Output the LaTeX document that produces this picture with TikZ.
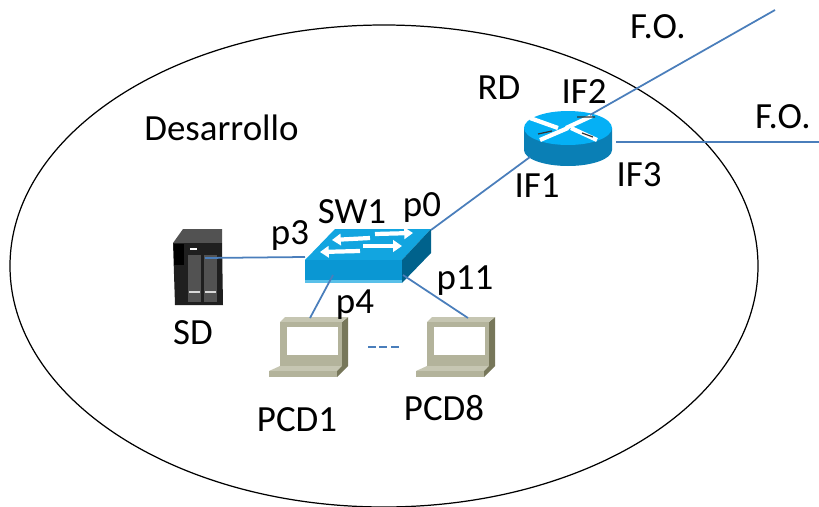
\documentclass[tikz,border=0pt]{standalone}
\usepackage{fontspec}
\setmainfont{Carlito}
\usetikzlibrary{arrows.meta}
\definecolor{fibre}{HTML}{4A7EBB}
\definecolor{ciscotop}{HTML}{12A5E0}
\definecolor{ciscofront}{HTML}{0A97D3}
\definecolor{ciscoside}{HTML}{00628C}
\definecolor{routertop}{HTML}{05B0F5}
\definecolor{routerside}{HTML}{0A7FB5}
\definecolor{pcbody}{HTML}{B3B39B}
\definecolor{pcdark}{HTML}{77775A}
\definecolor{pclight}{HTML}{C6C6B2}
\tikzset{
	label/.style={font=\fontsize{21}{24}\selectfont,inner sep=0pt},
	link/.style={fibre,line width=1pt},
	swarrow/.style={white,line width=2.4pt,-{Stealth[length=5pt,width=6.5pt,inset=0pt]}},
}
\begin{document}
\begin{tikzpicture}[x=0.02cm,y=-0.02cm]
\useasboundingbox (0,0) rectangle (819,507);
\draw [line width=0.7pt] (384,266) ellipse [x radius=374,y radius=241];

% router
\fill [routerside] (524,128) -- (524,150) arc [start angle=180,end angle=360,x radius=44,y radius=-16] -- (612,128) -- cycle;
\fill [routertop] (568,128) ellipse [x radius=44,y radius=17];
\foreach \a / \b in {530/118,540/140}
	\draw [white,line width=2.4pt] (\a,\b) -- ({\a+28},{128});
\foreach \a / \b in {592/116,597/140}
	\draw [white,line width=2.4pt] (\a,\b) -- ({\a-26},{128});
\draw [black!80,line width=0.7pt] (538,134) -- (552,131) (577,117) -- (595,117) (582,133) -- (593,137);

% switch
\fill [ciscotop] (305,260) -- (335,229) -- (431,229) -- (402,260) -- cycle;
\fill [ciscofront] (305,260) rectangle (402,283);
\fill [ciscotop!70] (305,280) rectangle (402,283);
\fill [ciscoside] (402,260) -- (431,229) -- (431,253) -- (402,283) -- cycle;
\draw [swarrow] (370,238) -- (332,240);
\draw [swarrow] (375,234) -- (413,233);
\draw [swarrow] (360,251) -- (320,252);
\draw [swarrow] (363,246) -- (402,246);

% storage
\fill [black!68] (173,243) -- (183,229) -- (222,229) -- (222,243) -- cycle;
\fill [black!88] (173,243) -- (222,243) -- (223,305) -- (175,305) -- cycle;
\foreach \x in {188,204} {
	\fill [black!68] (\x,255) rectangle ({\x+13},302);
	\fill [black!15] ({\x+1},291) rectangle ({\x+12},293);
}
\fill [black] (174,244) rectangle (184,265);
\fill [white] (190,248) rectangle (197,250);

% laptops
\foreach \x in {0,147} {
\begin{scope}[xshift=\x*0.02cm]
	\fill [pcdark] (342,322) -- (348,317) -- (348,362) -- (340,372) -- cycle;
	\fill [pclight] (280,322) -- (285,317) -- (348,317) -- (342,322) -- cycle;
	\fill [pcbody] (280,322) rectangle (342,362);
	\fill [white] (287,327) rectangle (338,355);
	\fill [pcbody] (280,360) -- (342,360) -- (342,368) -- (280,368) -- cycle;
	\fill [pclight] (269,371) -- (280,366) -- (342,366) -- (337,371) -- cycle;
	\fill [pcbody] (269,371) rectangle (337,377);
	\fill [pcdark] (337,371) -- (346,362) -- (348,362) -- (348,366) -- (337,377) -- cycle;
\end{scope}
}

\coordinate (foA) at (775,10);
\coordinate (foB) at (819,142);
\coordinate (ifTwo) at (590,115);
\coordinate (ifThree) at (616,142);
\coordinate (ifOne) at (530,157);
\coordinate (pZero) at (431,230);
\coordinate (pThree) at (305,257);
\coordinate (pFour) at (333,275);
\coordinate (pEleven) at (403,275);
\coordinate (disk) at (205,258);
\coordinate (pcA) at (310,318);
\coordinate (pcB) at (468,318);
\coordinate (dotsA) at (368,347);
\coordinate (dotsB) at (400,347);

\draw [link] (ifTwo) -- (foA);
\draw [link] (ifThree) -- (foB);
\draw [link] (pZero) -- (ifOne);
\draw [link] (disk) -- (pThree);
\draw [link] (pFour) -- (pcA);
\draw [link] (pEleven) -- (pcB);
\draw [link,line width=1.15pt,dash pattern=on 4.5pt off 2pt] (dotsA) -- (dotsB);

\node [label] (foOne) at (658,27) {F.O.};
\node [label] (foTwo) at (783,117) {F.O.};
\node [label] (rd) at (499,88) {RD};
\node [label] (ifB) at (584,92) {IF2};
\node [label] (ifA) at (537,186) {IF1};
\node [label] (ifC) at (639,175) {IF3};
\node [label] (desarrollo) at (221.5,128) {Desarrollo};
\node [label] (swOne) at (352,212) {SW1};
\node [label] (pA) at (422,207) {p0};
\node [label] (pB) at (290,236) {p3};
\node [label] (pC) at (355,305) {p4};
\node [label] (pD) at (465,281) {p11};
\node [label] (sd) at (193,333) {SD};
\node [label] (pcdOne) at (297,420) {PCD1};
\node [label] (pcdEight) at (444,408) {PCD8};
\end{tikzpicture}
\end{document}
